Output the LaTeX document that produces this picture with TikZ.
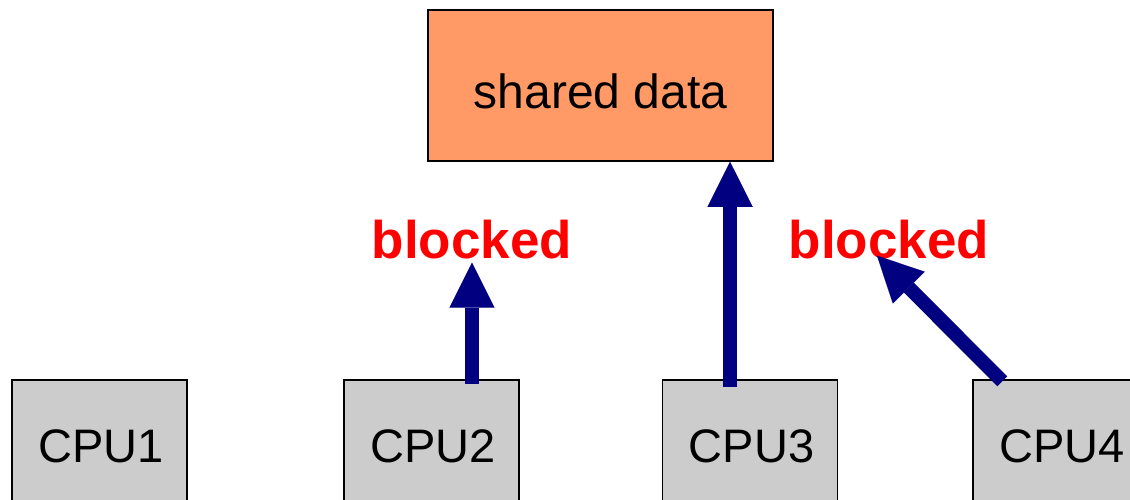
\documentclass[tikz,border=0pt]{standalone}
\usepackage{fontspec}
\setmainfont{Liberation Sans}
\usetikzlibrary{arrows.meta}
\definecolor{dataorange}{HTML}{FF9966}
\definecolor{cpugray}{HTML}{CCCCCC}
\definecolor{flownavy}{HTML}{000080}
\tikzset{
  databox/.style={draw=black, line width=1.5pt, fill=dataorange,
    minimum width=345pt, minimum height=151pt, inner sep=0pt,
    font=\fontsize{48}{56}\selectfont, text height=45pt, text depth=0pt},
  cpubox/.style={draw=black, line width=1.5pt, fill=cpugray,
    minimum width=175pt, minimum height=132pt, inner sep=0pt,
    font=\fontsize{47}{56}\selectfont},
  blockedlabel/.style={text=red, inner sep=4pt,
    font=\fontsize{53}{60}\selectfont\bfseries},
  flow/.style={draw=flownavy, line width=14pt,
    -{Triangle[length=45pt,width=45pt,line width=0.01pt]}}
}
\begin{document}
\begin{tikzpicture}[x=1pt,y=-1pt]
  \useasboundingbox (0,0) rectangle (1130,499);
  \clip (0,0) rectangle (1130,499);

  % shared resource
  \node[databox] (shared) at (600.5,85.5) {shared data};

  % processors (boxes run past the lower edge)
  \node[cpubox] (cpu1) at (99.5,446) {\hspace{3pt}CPU1};
  \node[cpubox] (cpu2) at (431.5,446) {\hspace{3pt}CPU2};
  \node[cpubox] (cpu3) at (750,446) {\hspace{3pt}CPU3};
  \node[cpubox] (cpu4) at (1060.5,446) {\hspace{3pt}CPU4};

  % waiting markers
  \node[blockedlabel, anchor=base] (b2) at (472,258) {blocked};
  \node[blockedlabel, anchor=base] (b4) at (889,258) {blocked};

  % access attempts
  \coordinate (t2) at ([yshift=-5pt]cpu2.north -| b2.south);
  \draw[flow] (t2) -- (b2.south);

  \coordinate (t3) at ([xshift=-20pt,yshift=-8pt]cpu3.north);
  \draw[flow] (t3) -- (t3 |- shared.south);

  \coordinate (t4) at ([xshift=30pt,yshift=-2pt]cpu4.north west);
  \coordinate (h4) at ([xshift=-12pt,yshift=7pt]b4.south);
  \draw[flow] (t4) -- (h4);
\end{tikzpicture}
\end{document}
